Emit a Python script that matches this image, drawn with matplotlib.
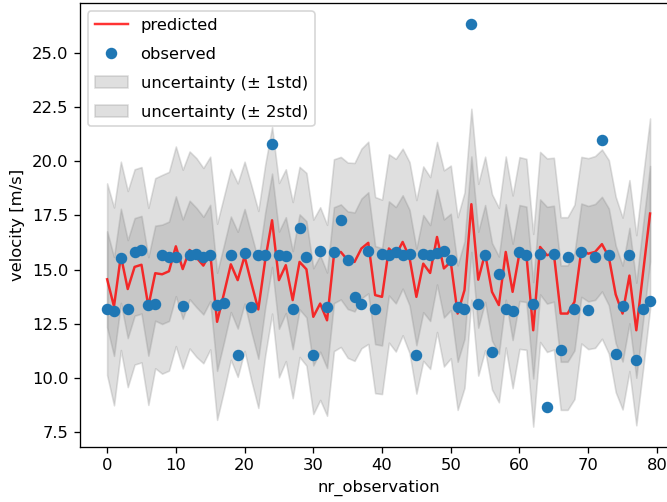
"""Predicted vs observed velocity with uncertainty bands."""

import matplotlib

matplotlib.use("Agg")
import matplotlib.pyplot as plt
import numpy as np

# values
nr_observation = list(range(80))

predicted = [
    14.55, 13.30, 15.63, 14.10, 15.12, 15.22, 13.30, 14.83, 14.78, 14.92,
    16.07, 15.02, 15.90, 15.55, 15.18, 15.76, 12.59, 13.89, 15.24, 14.51,
    15.61, 14.36, 13.16, 15.43, 17.27, 14.51, 15.20, 13.59, 15.35, 15.01,
    12.82, 13.43, 12.66, 15.66, 15.81, 15.43, 15.35, 15.97, 16.23, 13.82,
    13.74, 15.97, 15.66, 16.27, 15.55, 13.74, 15.27, 14.84, 16.50, 15.05,
    15.35, 12.97, 14.05, 18.01, 14.53, 15.74, 13.97, 13.36, 15.81, 13.97,
    15.76, 15.70, 12.20, 16.04, 15.66, 15.73, 12.97, 12.97, 13.51, 15.89,
    15.73, 15.81, 16.17, 15.58, 13.85, 12.97, 14.72, 12.20, 14.90, 17.58,
]

observed = [
    13.16, 13.10, 15.55, 13.20, 15.80, 15.89, 13.36, 13.40, 15.66, 15.58,
    15.58, 13.33, 15.66, 15.70, 15.58, 15.66, 13.36, 13.46, 15.66, 11.08,
    15.76, 13.25, 15.69, 15.66, 20.80, 15.69, 15.61, 13.16, 16.93, 15.58,
    11.08, 15.86, 13.28, 15.81, 17.27, 15.46, 13.74, 13.43, 15.86, 13.16,
    15.70, 15.66, 15.81, 15.66, 15.70, 11.08, 15.73, 15.66, 15.76, 15.86,
    15.46, 13.25, 13.20, 26.33, 13.39, 15.66, 11.20, 14.78, 13.20, 13.10,
    15.81, 15.66, 13.43, 15.73, 8.67, 15.73, 11.28, 15.58, 13.20, 15.81,
    13.13, 15.58, 20.96, 15.66, 11.10, 13.33, 15.66, 10.82, 13.20, 13.54,
]

std = [
    2.21, 2.28, 2.17, 2.26, 2.25, 2.25, 2.27, 2.19, 2.29, 2.29,
    2.30, 2.29, 2.27, 2.29, 2.25, 2.22, 2.26, 2.24, 2.20, 2.23,
    2.18, 2.25, 2.27, 2.20, 2.15, 2.24, 2.21, 2.26, 2.19, 2.22,
    2.24, 2.22, 2.20, 2.21, 2.19, 2.25, 2.28, 2.30, 2.33, 2.26,
    2.24, 2.17, 2.22, 2.15, 2.20, 2.23, 2.24, 2.21, 2.19, 2.26,
    2.22, 2.22, 2.25, 2.20, 2.21, 2.23, 2.25, 2.24, 2.20, 2.22,
    2.21, 2.20, 2.22, 2.19, 2.23, 2.21, 2.22, 2.22, 2.24, 2.15,
    2.20, 2.21, 2.18, 2.23, 2.25, 2.21, 2.20, 2.19, 2.22, 2.19,
]


def main() -> None:
    x = np.array(nr_observation)
    mean = np.array(predicted)
    s = np.array(std)

    dpi = 118
    fig = plt.figure(figsize=(667 / dpi, 502 / dpi), dpi=dpi)
    # the reference is cropped: right spine sits just outside the image
    ax = fig.add_axes([0.1199, 0.110, 0.8954, 0.8839])

    ax.plot(x, mean, color="red", alpha=0.8, label="predicted")
    ax.plot(x, observed, "o", color="#1f77b4", label="observed")
    ax.fill_between(x, mean - s, mean + s, color="gray", alpha=0.25,
                    label="uncertainty (± 1std)")
    ax.fill_between(x, mean - 2 * s, mean + 2 * s, color="gray", alpha=0.25,
                    label="uncertainty (± 2std)")

    ax.set_ylim(6.83, 27.28)
    ax.set_xlabel("nr_observation")
    ax.set_ylabel("velocity [m/s]")
    ax.legend(loc="upper left", labelspacing=0.85)

    fig.savefig("out.png", dpi=dpi)
    plt.close(fig)


if __name__ == "__main__":
    main()
